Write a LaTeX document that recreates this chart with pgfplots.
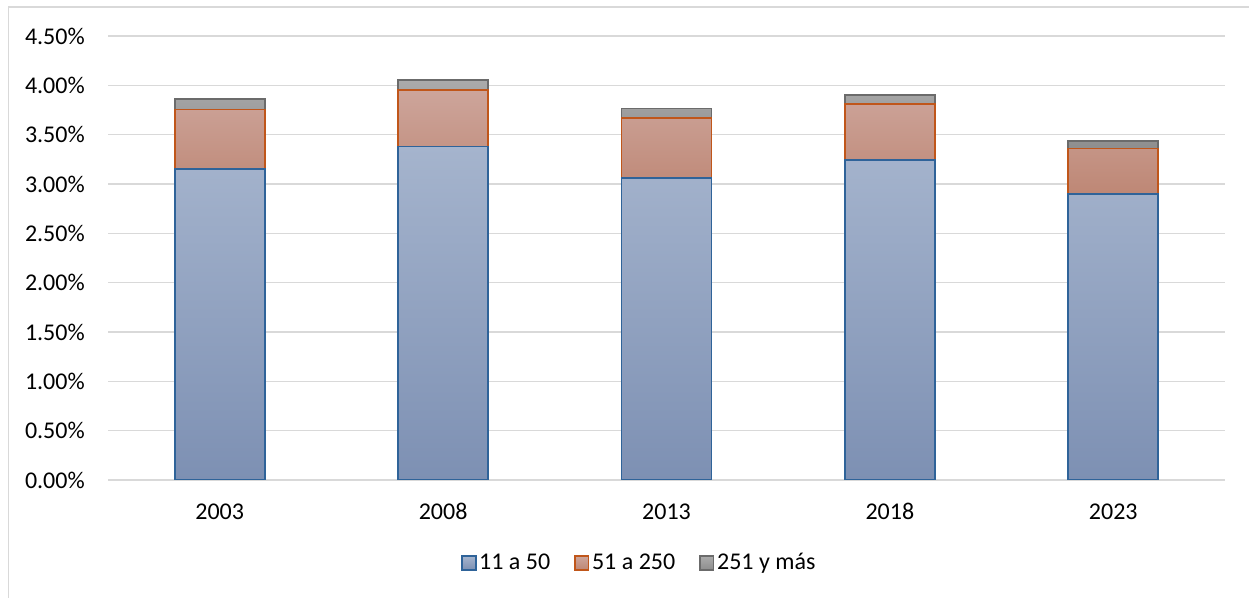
\documentclass[border=0pt]{standalone}
\usepackage{pgfplots}
\pgfplotsset{compat=1.18}
\usepackage{fontspec}
\setmainfont{Carlito}
\definecolor{bluetop}{HTML}{A5B4CD}
\definecolor{bluebot}{HTML}{7D90B3}
\definecolor{blueedge}{HTML}{2F6399}
\definecolor{ortop}{HTML}{CDA59B}
\definecolor{orbot}{HTML}{BE8775}
\definecolor{oredge}{HTML}{C0561A}
\definecolor{grtop}{HTML}{ABABAB}
\definecolor{grbot}{HTML}{8E8E8E}
\definecolor{gredge}{HTML}{6B6B6B}
\definecolor{gridc}{HTML}{D9D9D9}
\begin{document}
\fontsize{18pt}{21pt}\selectfont
\begin{tikzpicture}
\useasboundingbox (0,0) rectangle (936.75pt,448.5pt);
\draw[gridc, line width=1.2pt] (6.4pt,-2pt) -- (6.4pt,443.25pt) -- (940pt,443.25pt);
\begin{axis}[
  at={(81pt,88.5pt)}, anchor=south west,
  scale only axis, width=837.75pt, height=333pt,
  ybar stacked, bar width=67.5pt,
  xmin=-0.5, xmax=4.5, ymin=0, ymax=4.5,
  xtick={0,1,2,3,4}, xticklabels={2003,2008,2013,2018,2023},
  ytick={0,0.5,1,1.5,2,2.5,3,3.5,4,4.5},
  /pgf/number format/assume math mode=true,
  yticklabel={\pgfmathprintnumber[fixed,fixed zerofill,precision=2]{\tick}\%},
  axis line style={draw=none},
  tick style={draw=none},
  ymajorgrids,
  grid style={gridc, line width=1.2pt},
  xticklabel style={anchor=base, inner sep=0pt, yshift=-29.7pt, font=\fontsize{18pt}{21pt}\selectfont},
  yticklabel style={anchor=east, inner sep=0pt, xshift=-17.25pt, font=\fontsize{18pt}{21pt}\selectfont},
  legend columns=-1,
  legend style={draw=none, at={(0.476,-0.187)}, anchor=center,
    font=\fontsize{18pt}{21pt}\selectfont,
    /tikz/every even column/.append style={column sep=16pt},
    /tikz/every odd column/.append style={column sep=0pt}},
  legend image code/.code={\draw[#1] (0pt,-5pt) rectangle (10pt,5pt);},
]
\addplot[draw=blueedge, line width=1.4pt, top color=bluetop, bottom color=bluebot]
  coordinates {(0,3.15) (1,3.38) (2,3.065) (3,3.24) (4,2.895)};
\addplot[draw=oredge, line width=1.4pt, top color=ortop, bottom color=orbot]
  coordinates {(0,0.605) (1,0.57) (2,0.60) (3,0.575) (4,0.465)};
\addplot[draw=gredge, line width=1.4pt, top color=grtop, bottom color=grbot]
  coordinates {(0,0.11) (1,0.10) (2,0.10) (3,0.085) (4,0.075)};
\legend{11 a 50,51 a 250,251 y más}
\end{axis}
\end{tikzpicture}
\end{document}
